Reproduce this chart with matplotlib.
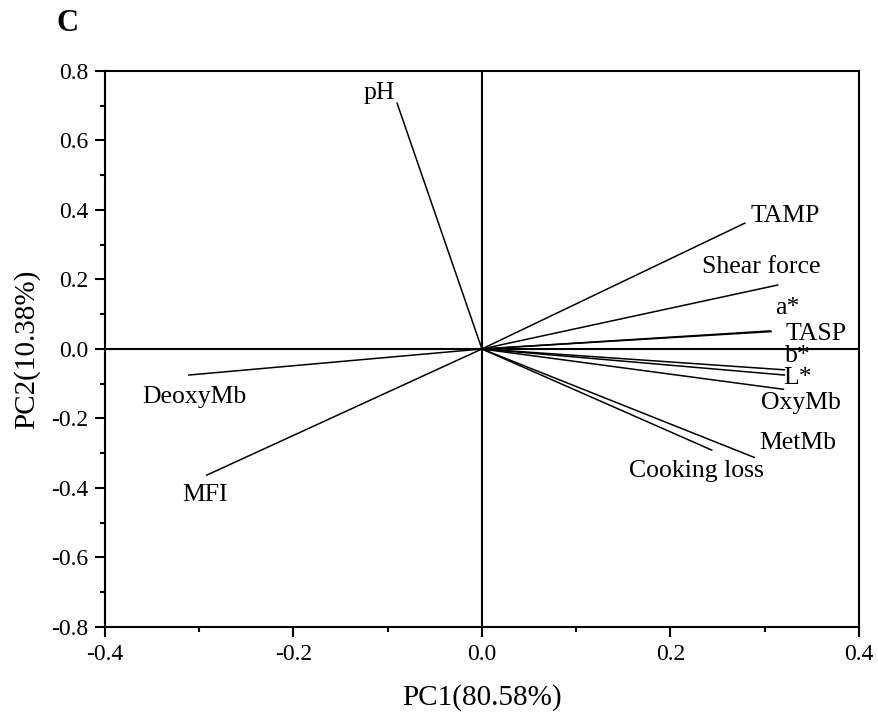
import matplotlib.pyplot as plt
from matplotlib.ticker import MultipleLocator

# PCA loadings
variables = ["pH", "TAMP", "Shear force", "a*", "TASP", "b*", "L*",
             "OxyMb", "MetMb", "Cooking loss", "DeoxyMb", "MFI"]
pc1 = [-0.090, 0.279, 0.314, 0.306, 0.307, 0.321, 0.321,
       0.320, 0.289, 0.244, -0.311, -0.292]
pc2 = [0.707, 0.362, 0.184, 0.052, 0.050, -0.060, -0.075,
       -0.116, -0.312, -0.291, -0.075, -0.363]

# label offsets from the arrow tip, in pixels (x right, y up)
offsets = {
    "pH": (-18, 10), "TAMP": (40, 7), "Shear force": (-17, 18),
    "a*": (17, 23), "TASP": (45, -2), "b*": (13, 14), "L*": (13, -3),
    "OxyMb": (18, -14), "MetMb": (44, 14), "Cooking loss": (-15, -21),
    "DeoxyMb": (6, -22), "MFI": (-2, -20),
}

plt.rcParams["font.family"] = ["Liberation Serif", "DejaVu Serif"]

fig = plt.figure(figsize=(8.79, 7.24), dpi=100)
ax = fig.add_axes([0.1195, 0.134, 0.8575, 0.768])

ax.axhline(0, color="black", lw=1.5)
ax.axvline(0, color="black", lw=1.5)

for name, x, y in zip(variables, pc1, pc2):
    ax.plot([0, x], [0, y], color="black", lw=1.1)
    dx, dy = offsets[name]
    ax.annotate(name, (x, y), xytext=(dx, dy), textcoords="offset pixels",
                ha="center", va="center", fontsize=18.5)

ax.set_xlim(-0.4, 0.4)
ax.set_ylim(-0.8, 0.8)
ax.xaxis.set_major_locator(MultipleLocator(0.2))
ax.xaxis.set_minor_locator(MultipleLocator(0.1))
ax.yaxis.set_major_locator(MultipleLocator(0.2))
ax.yaxis.set_minor_locator(MultipleLocator(0.1))
ax.xaxis.set_major_formatter(plt.FuncFormatter(lambda v, p: f"{v:.1f}"))
ax.yaxis.set_major_formatter(plt.FuncFormatter(lambda v, p: f"{v:.1f}"))
ax.tick_params(which="major", direction="out", length=7, width=1.5,
               labelsize=17, pad=5)
ax.tick_params(which="minor", direction="out", length=3.5, width=1.5)
for s in ax.spines.values():
    s.set_linewidth(1.5)

ax.set_xlabel("PC1(80.58%)", fontsize=21, labelpad=14)
ax.set_ylabel("PC2(10.38%)", fontsize=21, labelpad=8)

fig.text(0.077, 0.968, "C", fontsize=22, fontweight="bold",
         ha="center", va="center")

fig.savefig("out.png", dpi=100)
